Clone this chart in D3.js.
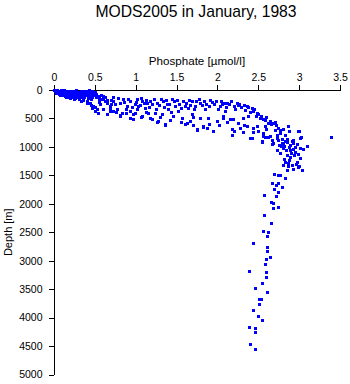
<!DOCTYPE html>
<html>
<head>
<meta charset="utf-8">
<script src="https://cdn.jsdelivr.net/npm/d3@7"></script>
<style>
  html, body { margin: 0; padding: 0; background: #fff; }
  svg { display: block; font-family: "Liberation Sans", Arial, Helvetica, sans-serif; }
</style>
</head>
<body>
<svg id="chart" width="350" height="384"></svg>
<script>
// Phosphate profile from MODS2005, January 1983

const titleText = "MODS2005 in January, 1983";
const xLabel = "Phosphate [\u00b5mol/l]";
const yLabel = "Depth [m]";

const xTicks = [0, 0.5, 1, 1.5, 2, 2.5, 3, 3.5];
const xTickLabels = ["0", "0.5", "1", "1.5", "2", "2.5", "3", "3.5"];
const yTicks = [0, 500, 1000, 1500, 2000, 2500, 3000, 3500, 4000, 4500, 5000];
const yTickLabels = ["0", "500", "1000", "1500", "2000", "2500", "3000", "3500", "4000", "4500", "5000"];

// surface mixed layer
const surfacePhosphate = [0.00,0.02,0.04,0.05,0.07,0.08,0.10,0.11,0.12,0.14,0.15,0.16,0.18,0.19,0.20,0.21,0.23,0.24,0.25,0.27,0.28,0.30,0.31,0.33,0.34,0.36,0.38,0.40,0.41,0.43,0.45,0.47,0.48,0.50,0.02,0.03,0.06,0.09,0.13,0.17,0.22,0.26,0.30,0.35,0.01,0.06,0.09,0.13,0.17,0.22,0.26,0.29,0.32,0.37,0.39,0.42,0.44,0.46,0.49,0.52,0.55,0.58,0.62,0.03,0.11,0.19,0.27,0.35,0.16,0.24,0.33,0.40,
  0.04,0.07,0.12,0.15,0.20,0.25,0.31,0.36,0.41,0.45,0.51,0.56,0.60,0.08,0.14,0.19,0.24,0.29,0.33,0.38,0.43,0.47,0.65,0.70,0.72,0.40,0.45,0.55,0.50,0.68];
const surfaceDepth = [5,15,8,30,12,45,20,60,5,35,70,15,50,25,85,10,40,65,20,100,55,30,80,10,120,45,90,25,140,60,110,15,75,40,40,60,75,90,100,110,125,140,150,170,25,50,5,55,85,70,45,115,95,130,60,85,35,130,95,70,110,90,130,20,30,40,5,20,130,155,190,200,
  50,95,80,120,140,110,130,100,110,160,130,160,100,25,10,70,35,70,55,20,5,50,180,240,120,230,260,210,300,330];

// thermocline / nutricline
const clinePhosphate = [0.35,0.44,0.48,0.53,0.56,0.60,0.65,0.69,0.72,0.77,0.81,0.84,0.89,0.93,0.99,1.02,0.60,0.65,0.69,0.72,0.81,0.83,0.93,0.97,0.97,0.50,0.54,0.47,
  1.02,1.08,1.14,1.20,1.26,1.33,1.38,1.44,1.48,1.58,1.60,1.69,1.73,1.79,1.85,1.93,2.01,2.06,1.02,1.08,1.15,1.20,1.27,1.36,1.46,1.57,1.60,1.66,1.75,1.82,1.87,1.95,2.00,2.07,1.03,1.11,1.24,1.32,1.40,1.52,1.69,1.79,1.88,1.64,
  1.18,1.26,1.36,1.63,1.70,1.75,1.82,0.81,0.93,0.99,2.18,
  0.55,0.62,0.70,0.75,0.78,0.86,0.88,0.91,0.95,1.00,1.05,1.07,1.10,1.13,1.16,1.18,1.22,1.25,1.29,1.31,1.35,1.37,1.41,1.43,1.47,1.50,1.53,1.55,1.62,1.65,1.67,1.71,1.74,1.77,1.81,1.83,1.86,1.90,1.91,1.96,1.98,2.03,2.04,2.09,2.10,2.14,2.16,2.20,2.22,2.27,2.29,2.33,2.34,2.38,2.40,2.45,2.50,2.47,2.53,2.58,2.60,2.62,2.66,2.70,2.72,2.76,2.80,2.70,1.30,1.42,1.55,1.70,1.90,2.02,2.12,2.25,2.33,2.20,1.12,0.88,1.06,0.76,2.50,2.60];
const clineDepth = [158,228,281,333,246,158,228,281,193,333,228,158,281,193,246,158,333,421,368,368,456,404,368,421,509,368,404,316,
  158,193,228,246,228,193,246,158,281,193,281,193,281,228,333,211,333,246,333,456,404,509,544,596,456,491,596,544,684,632,667,719,544,491,281,316,404,421,333,368,421,491,491,316,
  491,561,614,579,614,702,649,439,491,404,790,
  150,200,170,250,140,210,330,150,300,210,260,140,220,170,300,200,160,330,260,150,300,180,240,380,200,170,250,320,230,170,260,330,200,160,260,190,240,280,170,250,190,280,190,230,300,250,200,280,340,250,300,270,350,300,380,340,420,460,450,520,470,580,600,560,620,700,680,700,470,520,560,480,600,620,560,580,620,720,380,400,480,380,720,690];

// lower thermocline and phosphate maximum
const maxPhosphate = [2.06,2.12,2.24,2.25,2.36,2.42,2.44,2.48,2.37,2.31,2.19,2.09,2.07,2.15,2.52,2.56,2.64,2.68,2.58,2.28,2.36,2.44,2.48,2.74,2.18,2.86,2.40,2.56,2.64,2.73,2.79,2.85,2.91,3.01,2.68,2.80,2.99,2.55,
  2.31,2.44,2.56,2.58,2.62,2.67,2.73,2.77,2.83,2.88,3.00,3.02,2.42,2.55,2.67,2.74,2.79,2.85,2.93,2.89,2.80,2.95,3.01,3.10,2.73,2.89,2.95,2.85,3.01,2.89,2.83,2.86,2.91,2.97,2.99,2.80,2.93,2.85,3.04,
  2.82,2.87,2.92,2.97,2.84,2.78,2.90,2.94,2.88,2.81,2.96,3.00,2.86,2.76,3.05,2.98,2.93,2.83,2.75,3.39];
const maxDepth = [228,228,228,263,281,316,368,404,456,491,509,368,456,509,491,509,544,579,632,667,632,667,632,667,684,632,842,807,807,842,860,860,895,842,930,930,719,895,
  737,737,754,825,825,877,789,754,789,719,719,825,842,912,947,877,930,912,877,965,1018,1000,1018,982,1053,1053,1088,1140,1193,1175,1263,1281,1316,1263,1351,1316,1386,1404,1404,
  980,1010,1040,950,1060,990,1110,1150,1230,1210,1300,1330,1340,1100,1040,1120,930,890,960,825];

// deep water
const deepPhosphate = [2.69,2.74,2.77,2.83,2.67,2.72,2.74,2.79,2.69,2.74,2.57,2.72,2.66,2.68,2.74,2.68,2.57,2.66,2.56,2.62,2.61,2.44,2.61,2.61,2.64,2.59,2.58,2.39,2.59,2.59,2.55,2.46,2.61,2.51,2.53,2.51,2.44,2.50,2.55,2.39,2.46,2.46,2.40,2.46];
const deepDepth = [1474,1491,1491,1544,1632,1667,1632,1702,1737,1789,1842,1860,1965,1982,2053,2070,2193,2333,2474,2491,2561,2684,2754,2825,2930,2965,3053,3175,3193,3281,3386,3474,3544,3667,3667,3754,3860,3965,4035,4158,4175,4246,4456,4544];

const phosphate = [].concat(surfacePhosphate, clinePhosphate, maxPhosphate, deepPhosphate);
const depth = [].concat(surfaceDepth, clineDepth, maxDepth, deepDepth);
const points = phosphate.map((p, i) => ({ p: p, d: depth[i] }));

const svg = d3.select("#chart");
const margin = { left: 54, top: 90 };

const x = d3.scaleLinear().domain([0, 3.5]).range([margin.left, 340]);
const y = d3.scaleLinear().domain([0, 5000]).range([margin.top, 374.5]);

// title
svg.append("text")
  .attr("x", 196).attr("y", 17)
  .attr("text-anchor", "middle")
  .attr("font-size", 15.7)
  .attr("fill", "#000")
  .text(titleText);

// x axis on top
const xAxis = d3.axisTop(x)
  .tickValues(xTicks)
  .tickFormat((d, i) => xTickLabels[i])
  .tickSize(5).tickPadding(4).tickSizeOuter(0);
const gx = svg.append("g")
  .attr("transform", `translate(0,${margin.top - 0.5})`)
  .call(xAxis);
gx.selectAll("text").attr("font-size", 10.5).attr("font-family", "Liberation Sans, Arial, sans-serif").attr("fill", "#000");
gx.selectAll("line, path").attr("stroke", "#000").attr("shape-rendering", "crispEdges");

svg.append("text")
  .attr("x", 197).attr("y", 65)
  .attr("text-anchor", "middle")
  .attr("font-size", 11.6)
  .attr("fill", "#000")
  .text(xLabel);

// y axis (depth increases downward)
const yAxis = d3.axisLeft(y)
  .tickValues(yTicks)
  .tickFormat((d, i) => yTickLabels[i])
  .tickSize(5).tickPadding(6).tickSizeOuter(0);
const gy = svg.append("g")
  .attr("transform", `translate(${margin.left - 0.5},0)`)
  .call(yAxis);
gy.selectAll("text").attr("font-size", 10.5).attr("font-family", "Liberation Sans, Arial, sans-serif").attr("fill", "#000");
gy.selectAll("line, path").attr("stroke", "#000").attr("shape-rendering", "crispEdges");

svg.append("text")
  .attr("transform", `translate(12,${(y(0) + y(5000)) / 2}) rotate(-90)`)
  .attr("text-anchor", "middle")
  .attr("font-size", 11)
  .attr("fill", "#000")
  .text(yLabel);

// observations
svg.append("g")
  .selectAll("rect")
  .data(points)
  .join("rect")
  .attr("x", d => Math.round(x(d.p)) - 1.5)
  .attr("y", d => Math.round(y(d.d)) - 1.5)
  .attr("width", 3)
  .attr("height", 3)
  .attr("fill", "#0000ff")
  .attr("shape-rendering", "crispEdges");
</script>
</body>
</html>
